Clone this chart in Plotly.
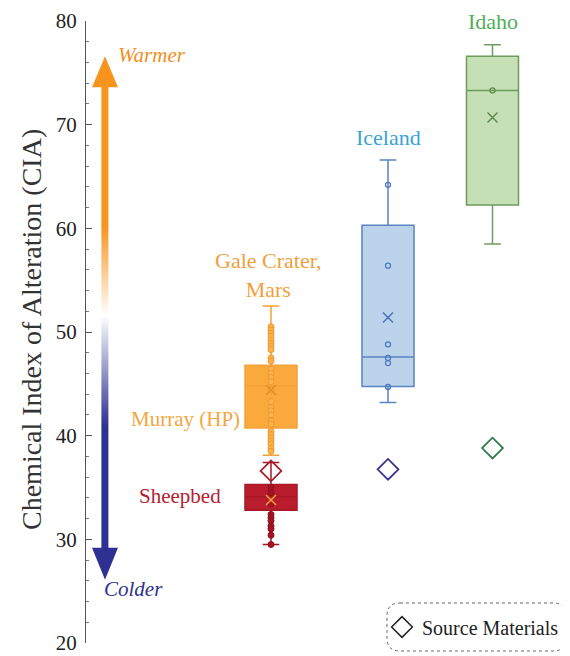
import plotly.graph_objects as go
import numpy as np

# ---------------- data ----------------
box_names = ["Murray (HP)", "Sheepbed", "Iceland", "Idaho"]
box_lower = [38.1, 29.5, 43.2, 58.5]
box_q1 = [40.75, 32.8, 44.75, 62.25]
box_median = [44.8, 34.1, 47.6, 73.3]
box_q3 = [46.8, 35.3, 60.3, 76.6]
box_upper = [52.5, 37.4, 66.6, 77.7]
box_mean = [44.4, 33.8, 51.4, 70.7]

murray_points = [50.5, 50.2, 49.9, 49.6, 49.2, 48.9, 48.6, 48.3, 47.5, 47.2,
                 46.4, 46.0, 45.6, 45.2, 44.4, 43.3, 42.7, 42.4, 42.0, 41.4,
                 41.1, 40.4, 40.1, 39.8, 39.5, 39.2, 38.8, 38.5]
sheepbed_points = [35.0, 34.5, 33.4, 32.4, 32.1, 31.8, 31.3, 31.0, 30.4, 29.5]
iceland_points = [64.2, 56.4, 48.8, 47.5, 47.0, 44.7]
idaho_points = [73.3]

source_names = ["Gale Crater (Murray)", "Iceland", "Idaho"]
source_cia = [36.6, 36.75, 38.8]

y_ticks = [20, 30, 40, 50, 60, 70, 80]

# ---------------- layout constants ----------------
OFF = 8                      # page body margin offset
SW, SH = 570, 656            # screen size
W, H = SW - OFF, SH - OFF
ML, MR, MT, MB = 86 - OFF, 0, 21 - OFF, 13
XMAX = 4.84
pos = {"Murray (HP)": 1.85, "Sheepbed": 1.85, "Iceland": 3.02, "Idaho": 4.065}
BOXW = 0.52
SERIF = "Liberation Serif"

fill = {"Murray (HP)": "#FAAA3C", "Sheepbed": "#B81C2D",
        "Iceland": "#BCD3EC", "Idaho": "#C6E0B5"}
edge = {"Murray (HP)": "#F3A23A", "Sheepbed": "#A91727",
        "Iceland": "#5A83C2", "Idaho": "#6E9B5D"}
mean_col = {"Murray (HP)": "#E0901E", "Sheepbed": "#F5A03A",
            "Iceland": "#4A74BA", "Idaho": "#5E8C4E"}

fig = go.Figure()

# gradient arrow shaft (decoration)
y_edges = np.linspace(28.9, 73.9, 226)
y_mid = (y_edges[:-1] + y_edges[1:]) / 2
fig.add_trace(go.Heatmap(
    x=[0.19 - 0.036, 0.19 + 0.036], y=y_edges, z=y_mid.reshape(-1, 1),
    zmin=29.2, zmax=73.6, showscale=False, hoverinfo="skip",
    colorscale=[[0, "#2E3192"], [0.266, "#2E3192"], [0.505, "#FFFFFF"],
                [0.70, "#F7941D"], [1, "#F7941D"]]))

# boxes
for i, n in enumerate(box_names):
    fig.add_trace(go.Box(
        x=[pos[n]], q1=[box_q1[i]], median=[box_median[i]], q3=[box_q3[i]],
        lowerfence=[box_lower[i]], upperfence=[box_upper[i]],
        width=BOXW, whiskerwidth=0.32, fillcolor=fill[n],
        line=dict(color=edge[n], width=1.5), name=n, showlegend=False,
        boxpoints=False, hoverinfo="y"))

# individual points
fig.add_trace(go.Scatter(
    x=[pos["Murray (HP)"]] * len(murray_points), y=murray_points, mode="markers",
    marker=dict(symbol="circle", size=6, color="#FBB24C",
                line=dict(color="#EE9A2E", width=1)), showlegend=False))
fig.add_trace(go.Scatter(
    x=[pos["Sheepbed"]] * len(sheepbed_points), y=sheepbed_points, mode="markers",
    marker=dict(symbol="circle", size=6, color="#A51424",
                line=dict(color="#8E0E1C", width=1)), showlegend=False))
fig.add_trace(go.Scatter(
    x=[pos["Iceland"]] * len(iceland_points), y=iceland_points, mode="markers",
    marker=dict(symbol="circle-open", size=5, color="#4E78BC",
                line=dict(width=1.3)), showlegend=False))
fig.add_trace(go.Scatter(
    x=[pos["Idaho"]] * len(idaho_points), y=idaho_points, mode="markers",
    marker=dict(symbol="circle-open", size=5, color="#5E8C4E",
                line=dict(width=1.3)), showlegend=False))

# means
fig.add_trace(go.Scatter(
    x=[pos[n] for n in box_names], y=box_mean, mode="markers",
    marker=dict(symbol="x-thin-open", size=10,
                color=[mean_col[n] for n in box_names],
                line=dict(width=1.5, color=[mean_col[n] for n in box_names])),
    showlegend=False))

# source materials
src_pos = [pos["Murray (HP)"], pos["Iceland"], pos["Idaho"]]
src_col = ["#A3202E", "#3B3592", "#2F7D4A"]
fig.add_trace(go.Scatter(
    x=src_pos, y=source_cia, mode="markers", text=source_names,
    marker=dict(symbol="diamond-open", size=16, color=src_col,
                line=dict(width=1.8, color=src_col)),
    showlegend=False))

# legend entry
fig.add_trace(go.Scatter(
    x=[None], y=[None], mode="markers", name="Source Materials",
    marker=dict(symbol="diamond-open", size=16, color="#222222",
                line=dict(width=1.5, color="#222222")), showlegend=True))

# ---------------- shapes ----------------
shapes = [
    dict(type="path", xref="x", yref="y", layer="above",
         path="M 0.06,73.6 L 0.32,73.6 L 0.19,76.6 Z",
         fillcolor="#F7941D", line=dict(width=0)),
    dict(type="path", xref="x", yref="y", layer="above",
         path="M 0.06,29.2 L 0.32,29.2 L 0.19,26.1 Z",
         fillcolor="#2E3192", line=dict(width=0)),
]

pw, ph = W - ML - MR, H - MT - MB


def px2paper(px, py):
    """screen pixel -> paper coords"""
    return (px - OFF - ML) / pw, (H - MB - (py - OFF)) / ph


def rounded_rect(x0, y0, x1, y1, r):
    def P(x, y):
        a, b = px2paper(x, y)
        return f"{a:.5f},{b:.5f}"
    return (f"M {P(x0 + r, y0)} L {P(x1 - r, y0)} Q {P(x1, y0)} {P(x1, y0 + r)} "
            f"L {P(x1, y1 - r)} Q {P(x1, y1)} {P(x1 - r, y1)} "
            f"L {P(x0 + r, y1)} Q {P(x0, y1)} {P(x0, y1 - r)} "
            f"L {P(x0, y0 + r)} Q {P(x0, y0)} {P(x0 + r, y0)} Z")


shapes.append(dict(type="path", xref="paper", yref="paper",
                   path=rounded_rect(387, 603, 566, 651, 13),
                   line=dict(color="#666666", width=1, dash="dot")))

# ---------------- annotations ----------------
ann = []


def A(text, x, y, color, size=22, xanchor="center", yanchor="middle", **kw):
    ann.append(dict(text=text, x=x, y=y, xref="x", yref="y", showarrow=False,
                    xanchor=xanchor, yanchor=yanchor,
                    font=dict(family=SERIF, size=size, color=color), **kw))


A("<i>Warmer</i>", 0.66, 76.7, "#F0901E", size=21)
A("<i>Colder</i>", 0.47, 25.2, "#2E3192", size=21)
A("Gale Crater,<br>Mars", pos["Murray (HP)"] - 0.03, 55.5, "#F2A03C")
A("Murray (HP)", 1.555, 41.6, "#F4A640", size=21, xanchor="right")
A("Sheepbed", 1.365, 34.2, "#B5222F", size=21, xanchor="right")
A("Iceland", pos["Iceland"], 68.8, "#3BA2D9")
A("Idaho", pos["Idaho"], 80.0, "#4FAF57")

tx, ty = px2paper(31, 330)
ann.append(dict(text="Chemical Index of Alteration (CIA)", textangle=-90,
                x=tx, y=ty, xref="paper", yref="paper",
                showarrow=False, xanchor="center", yanchor="middle",
                font=dict(family=SERIF, size=28, color="#333333")))

lx, _ = px2paper(382, 0)
_, ly = px2paper(0, 627)
fig.update_layout(
    width=W, height=H, margin=dict(l=ML, r=MR, t=MT, b=MB, autoexpand=False),
    paper_bgcolor="white", plot_bgcolor="white", boxmode="overlay",
    shapes=shapes, annotations=ann,
    legend=dict(x=lx, y=ly, xanchor="left", yanchor="middle",
                bgcolor="rgba(0,0,0,0)",
                font=dict(family=SERIF, size=20, color="#222222"),
                itemsizing="trace"),
    xaxis=dict(range=[0, XMAX], visible=False, fixedrange=True),
    yaxis=dict(range=[20, 80], tickvals=y_ticks, ticks="inside", ticklen=6,
               tickcolor="#555555", showline=True, linecolor="#555555",
               linewidth=1, showgrid=False, zeroline=False, automargin=False,
               tickfont=dict(family=SERIF, size=21, color="#222222"),
               ticklabelstandoff=4, ticklabeloverflow="allow",
               minor=dict(dtick=2, ticks="inside", ticklen=3,
                          tickcolor="#777777")),
)

fig.write_html("out.html")
